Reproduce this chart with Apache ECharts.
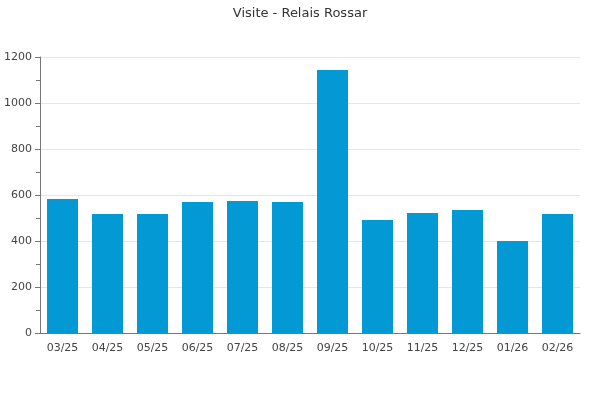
<!DOCTYPE html>
<html>
<head>
<meta charset="utf-8">
<script src="https://cdn.jsdelivr.net/npm/echarts@6/dist/echarts.min.js"></script>
<style>
  html, body { margin: 0; padding: 0; background: #fff; }
  #chart { width: 600px; height: 400px; }
</style>
</head>
<body>
<div id="chart"></div>
<script>
// mesi
var months = ['03/25', '04/25', '05/25', '06/25', '07/25', '08/25', '09/25', '10/25', '11/25', '12/25', '01/26', '02/26'];
// visite per mese
var visits = [583, 517, 517, 570, 574, 570, 1143, 491, 522, 535, 400, 517];

var chart = echarts.init(document.getElementById('chart'));

var option = {
  animation: false,
  title: {
    text: 'Visite - Relais Rossar',
    left: 'center',
    top: 2,
    textStyle: { fontFamily: 'DejaVu Sans', fontSize: 13, fontWeight: 'normal', color: '#333' }
  },
  grid: { left: 40, right: 20, top: 57, bottom: 67 },
  xAxis: {
    type: 'category',
    data: months,
    axisLine: { lineStyle: { color: '#777' } },
    axisTick: { show: false },
    axisLabel: { fontFamily: 'DejaVu Sans', fontSize: 11, color: '#444', margin: 10 }
  },
  yAxis: {
    type: 'value',
    min: 0,
    max: 1200,
    interval: 200,
    axisLine: { show: true, lineStyle: { color: '#777' } },
    axisTick: { show: true, length: 5, lineStyle: { color: '#777' } },
    minorTick: { show: true, splitNumber: 2, length: 4, lineStyle: { color: '#777' } },
    splitLine: { lineStyle: { color: '#e6e6e6' } },
    axisLabel: {
      fontFamily: 'DejaVu Sans', fontSize: 11, color: '#444', margin: 8,
      formatter: function (v) { return String(v); }
    }
  },
  series: [{
    type: 'bar',
    data: visits,
    barWidth: 31,
    itemStyle: { color: '#0399d4' }
  }]
};

chart.setOption(option);
</script>
</body>
</html>
